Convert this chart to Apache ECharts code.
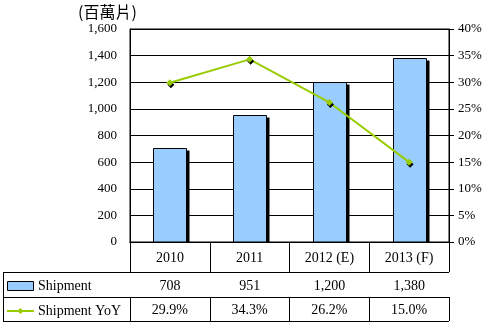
<!DOCTYPE html>
<html><head><meta charset="utf-8">
<script src="https://cdn.jsdelivr.net/npm/echarts@6/dist/echarts.min.js"></script>
<style>html,body{margin:0;padding:0;background:#fff}#c{width:494px;height:326px}</style>
</head><body><div id="c"></div>
<script>
const categories = ['2010', '2011', '2012 (E)', '2013 (F)'];
const shipment = [708, 951, 1200, 1380];
const shipmentYoY = [29.9, 34.3, 26.2, 15.0];
const leftTicks = [0, 1600, 200];
const rightTicks = [0, 40, 5];

const F = 'Liberation Serif';
const chart = echarts.init(document.getElementById('c'));
const fmtNum = v => v.toLocaleString('en-US');
const fmtPct = v => v.toFixed(1) + '%';
const black = '#000';
const green = '#99cc00';
const blue = '#99ccff';

function xAx(data, offset, tickLen, margin) {
  return {
    type: 'category', data: data, position: 'bottom', offset: offset,
    boundaryGap: true,
    axisLine: { show: true, lineStyle: { color: black, width: 1 } },
    axisTick: { show: true, length: tickLen, lineStyle: { color: black } },
    axisLabel: { margin: margin, color: black, fontFamily: F, fontSize: 14 },
    splitLine: { show: false }
  };
}

function renderBar(params, api) {
  const x = api.value(0), v = api.value(1);
  const top = api.coord([x, v]);
  const base = api.coord([x, 0]);
  const w = 33;
  const x0 = Math.round(top[0] - w / 2) + 0.5;
  const y0 = Math.round(top[1]) + 0.5;
  const h = base[1] - y0;
  return {
    type: 'group',
    children: [
      { type: 'rect', shape: { x: x0 + 3, y: y0 + 2, width: w, height: h - 2 }, style: { fill: black } },
      { type: 'rect', shape: { x: x0, y: y0, width: w, height: h }, style: { fill: blue, stroke: black, lineWidth: 1 } }
    ]
  };
}

chart.setOption({
  animation: false,
  grid: { left: 130, right: 45, top: 29, bottom: 84, show: true, borderColor: black, borderWidth: 1 },
  xAxis: [
    xAx(categories, 0, 30, 9),
    xAx(shipment.map(fmtNum), 30, 25, 7),
    xAx(shipmentYoY.map(fmtPct), 55, 24, 6)
  ],
  yAxis: [
    { type: 'value', min: leftTicks[0], max: leftTicks[1], interval: leftTicks[2],
      axisLine: { show: true, lineStyle: { color: black } },
      axisTick: { show: false },
      axisLabel: { margin: 13, color: black, fontFamily: F, fontSize: 13, formatter: v => fmtNum(v) },
      splitLine: { show: true, lineStyle: { color: black, width: 1 } } },
    { type: 'value', min: rightTicks[0] / 100, max: rightTicks[1] / 100, interval: rightTicks[2] / 100,
      position: 'right',
      axisLine: { show: true, lineStyle: { color: black } },
      axisTick: { show: true, length: 5, lineStyle: { color: black } },
      axisLabel: { margin: 9, color: black, fontFamily: F, fontSize: 13, formatter: v => Math.round(v * 100) + '%' },
      splitLine: { show: false } }
  ],
  series: [
    { type: 'custom', xAxisIndex: 0, yAxisIndex: 0, renderItem: renderBar,
      data: shipment.map((v, i) => [i, v]), encode: { x: 0, y: 1 }, z: 2 },
    { type: 'line', data: shipmentYoY.map(v => v / 100), xAxisIndex: 0, yAxisIndex: 1,
      symbol: 'diamond', symbolSize: 7, z: 3,
      lineStyle: { color: green, width: 2 },
      itemStyle: { color: green, shadowColor: black, shadowOffsetX: 1, shadowOffsetY: 2, shadowBlur: 0 } }
  ],
  graphic: [
    { type: 'text', left: 78, top: 4, style: { text: '(百萬片)', font: '16px "Noto Sans CJK TC"', fill: black } },
    { type: 'line', shape: { x1: 3, y1: 272.5, x2: 449, y2: 272.5 }, style: { stroke: black, lineWidth: 1 } },
    { type: 'line', shape: { x1: 3, y1: 297.5, x2: 449, y2: 297.5 }, style: { stroke: black, lineWidth: 1 } },
    { type: 'line', shape: { x1: 3, y1: 321.5, x2: 449, y2: 321.5 }, style: { stroke: black, lineWidth: 1 } },
    { type: 'line', shape: { x1: 3.5, y1: 272, x2: 3.5, y2: 322 }, style: { stroke: black, lineWidth: 1 } },
    { type: 'rect', shape: { x: 7.5, y: 281.5, width: 26, height: 9 }, style: { fill: blue, stroke: black, lineWidth: 1 } },
    { type: 'text', x: 38, y: 286, style: { text: 'Shipment', font: '14px "Liberation Serif"', fill: black, verticalAlign: 'middle' } },
    { type: 'line', shape: { x1: 7, y1: 311, x2: 34, y2: 311 }, style: { stroke: green, lineWidth: 2 } },
    { type: 'polygon', shape: { points: [[20.5, 308], [23.5, 311], [20.5, 314], [17.5, 311]] }, style: { fill: green } },
    { type: 'text', x: 38, y: 311, style: { text: 'Shipment YoY', font: '14px "Liberation Serif"', fill: black, verticalAlign: 'middle' } }
  ]
});
</script></body></html>
